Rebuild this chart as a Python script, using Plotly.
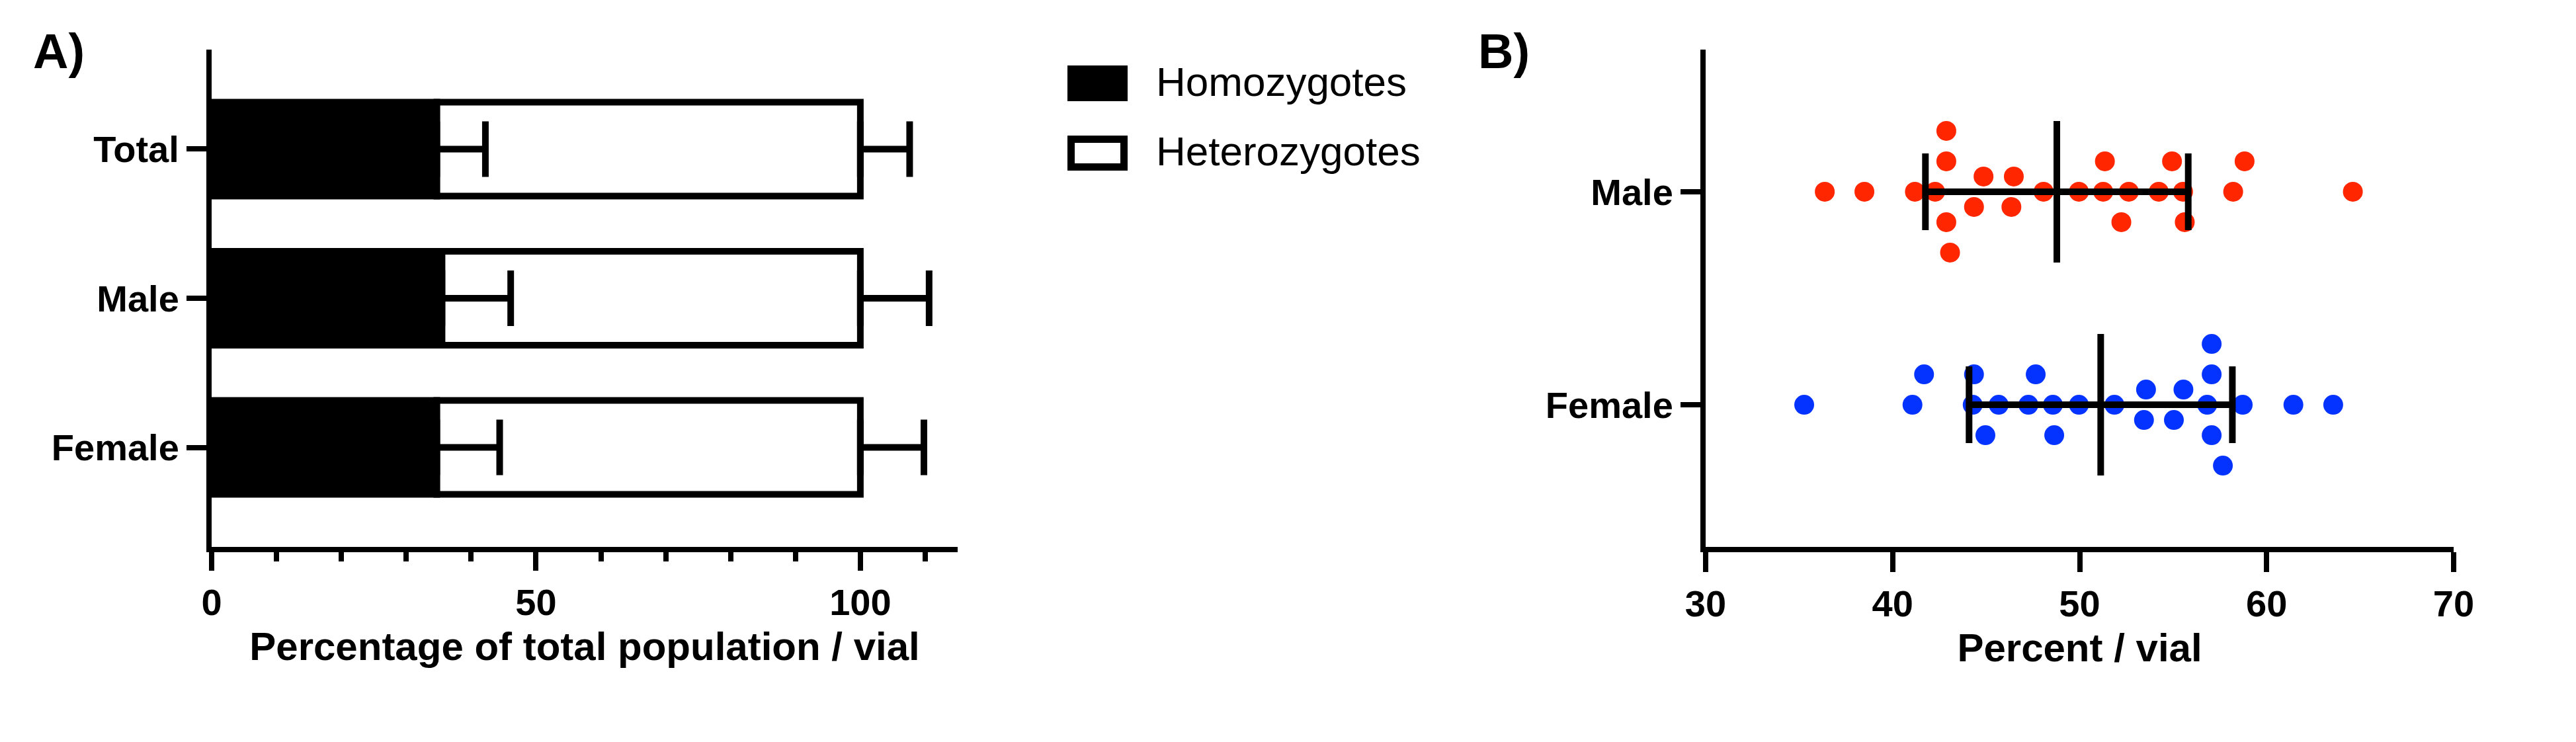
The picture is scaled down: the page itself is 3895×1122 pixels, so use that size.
import numpy as np
import plotly.graph_objects as go

# ---------------- data ----------------
# Panel A (stacked percentages per vial)
groups_a = ["Female", "Male", "Total"]
homozygotes = [34.7, 35.5, 34.7]
homozygotes_sd = [9.7, 10.6, 7.5]
heterozygotes = [100 - v for v in homozygotes]
heterozygotes_sd = [9.8, 10.6, 7.6]

# Panel B (homozygote percent per vial)
groups_b = ["Female", "Male"]
female_pct = [35.27, 41.06, 41.68, 44.28, 44.35, 44.96, 45.67, 47.26, 47.65,
              48.57, 48.64, 49.96, 51.86, 53.44, 53.55, 55.04, 55.55, 56.82,
              57.06, 57.06, 57.06, 57.66, 58.72, 61.43, 63.56]
male_pct = [36.37, 38.49, 41.19, 42.27, 42.87, 42.87, 42.87, 43.07, 44.35,
            44.86, 46.35, 46.48, 48.07, 49.96, 51.26, 51.35, 52.23, 52.63,
            54.23, 54.94, 55.53, 55.62, 58.21, 58.82, 64.61]

xticks_a = [0, 50, 100]
xticks_b = [30, 40, 50, 60, 70]

# ---------------- layout constants ----------------
W, H = 3895, 1122          # browser window
OFF = 8                    # default page body margin
FW, FH = W - 2 * OFF, H - 2 * OFF


def xp(px):
    return (px - OFF) / FW


def yp(py):
    return 1 - (py - OFF) / FH


FONT = "Liberation Sans, Arial, sans-serif"
AX_W = 8
LW = 10
DOM_Y = [yp(827), yp(75)]
DOM_XA = [xp(320), xp(1448)]
DOM_XB = [xp(2579), xp(3710)]
RANGE_XA = [0, 115]
RANGE_XB = [30, 70]
RANGE_YA = [-0.667, 2.667]
RANGE_YB = [-0.667, 1.667]
MARKER_PX = 30
ROW_PX = 46
MEAN_LINE_PX = 214
RED = "#FF2600"
BLUE = "#0433FF"

plot_w_b = (DOM_XB[1] - DOM_XB[0]) * FW
plot_h_b = (DOM_Y[1] - DOM_Y[0]) * FH
px_per_x = plot_w_b / (RANGE_XB[1] - RANGE_XB[0])
px_per_cat = plot_h_b / (RANGE_YB[1] - RANGE_YB[0])
dx_min = MARKER_PX / px_per_x
row_unit = ROW_PX / px_per_cat


def swarm_rows(values, dmin, pair_gap=0.55):
    """Greedy beeswarm: stack colliding points in rows, centre tight pairs."""
    vals = np.asarray(values, dtype=float)
    order = np.argsort(vals, kind="stable")
    rows = np.zeros(len(vals))
    placed = []
    cands = [0, 1, -1, 2, -2, 3, -3, 4, -4, 5, -5]
    for i in order:
        v = vals[i]
        for r in cands:
            if all(abs(v - pv) >= dmin for pv, pr in placed if pr == r):
                rows[i] = r
                placed.append((v, r))
                break
    clusters, cur = [], [order[0]]
    for a, b in zip(order[:-1], order[1:]):
        if vals[b] - vals[a] < dmin:
            cur.append(b)
        else:
            clusters.append(cur)
            cur = [b]
    clusters.append(cur)
    for c in clusters:
        if len(c) == 2 and abs(vals[c[1]] - vals[c[0]]) < pair_gap:
            lo, hi = sorted(c, key=lambda k: vals[k])
            rows[lo], rows[hi] = -0.5, 0.5
    return rows


fig = go.Figure()

# ---------------- Panel A ----------------
fig.add_trace(go.Bar(
    y=groups_a, x=heterozygotes, base=homozygotes, orientation="h",
    name="Heterozygotes", width=0.63,
    marker=dict(color="white", line=dict(color="black", width=LW)),
    error_x=dict(type="data", symmetric=False, array=heterozygotes_sd,
                 arrayminus=[0] * 3, color="black", thickness=LW, width=42),
    xaxis="x", yaxis="y"))
fig.add_trace(go.Bar(
    y=groups_a, x=homozygotes, orientation="h",
    name="Homozygotes", width=0.63,
    marker=dict(color="black", line=dict(color="black", width=LW)),
    error_x=dict(type="data", symmetric=False, array=homozygotes_sd,
                 arrayminus=[0] * 3, color="black", thickness=LW, width=42),
    xaxis="x", yaxis="y"))

# ---------------- Panel B ----------------
for gi, (vals, col) in enumerate([(female_pct, BLUE), (male_pct, RED)]):
    rows = swarm_rows(vals, dx_min)
    fig.add_trace(go.Scatter(
        x=vals, y=gi + rows * row_unit, mode="markers",
        marker=dict(color=col, size=MARKER_PX, line=dict(width=0)),
        xaxis="x2", yaxis="y2", showlegend=False))
    m = float(np.mean(vals))
    sd = float(np.std(vals, ddof=1))
    # 'line-ns' symbol length is 1.4 x marker size
    fig.add_trace(go.Scatter(
        x=[m], y=[gi], mode="markers",
        marker=dict(symbol="line-ns", size=MEAN_LINE_PX / 1.4, color="black",
                    line=dict(width=LW, color="black")),
        error_x=dict(type="data", array=[sd], color="black",
                     thickness=LW, width=58),
        xaxis="x2", yaxis="y2", showlegend=False))

tickfont = dict(family=FONT, size=56, color="black", weight="bold")
titlefont = dict(family=FONT, size=60, color="black", weight="bold")
axis_common = dict(showline=True, linewidth=AX_W, linecolor="black",
                   ticks="outside", tickwidth=AX_W, tickcolor="black",
                   showgrid=False, zeroline=False, tickfont=tickfont,
                   automargin=False)

fig.update_layout(
    width=FW, height=FH, margin=dict(l=0, r=0, t=0, b=0),
    paper_bgcolor="white", plot_bgcolor="white", showlegend=False,
    barmode="overlay",
    xaxis=dict(domain=DOM_XA, range=RANGE_XA, anchor="y",
               tickvals=xticks_a, ticklen=28,
               minor=dict(dtick=10, tick0=0, ticks="outside", ticklen=14,
                          tickwidth=AX_W, tickcolor="black"),
               title=dict(text="Percentage of total population / vial",
                          font=titlefont, standoff=18),
               **axis_common),
    yaxis=dict(domain=DOM_Y, range=RANGE_YA, anchor="x", type="category",
               categoryorder="array", categoryarray=groups_a, ticklen=30,
               **axis_common),
    xaxis2=dict(domain=DOM_XB, range=RANGE_XB, anchor="y2",
                tickvals=xticks_b, ticklen=30,
                title=dict(text="Percent / vial", font=titlefont, standoff=18),
                **axis_common),
    yaxis2=dict(domain=DOM_Y, range=RANGE_YB, anchor="x2",
                tickvals=[0, 1], ticktext=groups_b, ticklen=30,
                **axis_common),
)

# Panel labels
for txt, x in [("A)", 48), ("B)", 2233)]:
    fig.add_annotation(text=txt, x=xp(x), y=yp(34), xref="paper", yref="paper",
                       xanchor="left", yanchor="top", showarrow=False,
                       font=dict(family=FONT, size=74, color="black", weight="bold"))

# Legend (drawn as swatches + labels)
fig.add_shape(type="rect", xref="paper", yref="paper",
              x0=xp(1614), x1=xp(1705), y0=yp(153), y1=yp(99),
              fillcolor="black", line=dict(width=0))
fig.add_shape(type="rect", xref="paper", yref="paper",
              x0=xp(1619.5), x1=xp(1699.5), y0=yp(252.5), y1=yp(210.5),
              fillcolor="white", line=dict(width=11, color="black"))
for txt, yc in [("Homozygotes", 123), ("Heterozygotes", 228)]:
    fig.add_annotation(text=txt, x=xp(1746), y=yp(yc), xref="paper", yref="paper",
                       xanchor="left", yanchor="middle", showarrow=False,
                       font=dict(family=FONT, size=62, color="black"))

fig.write_html("out.html")
